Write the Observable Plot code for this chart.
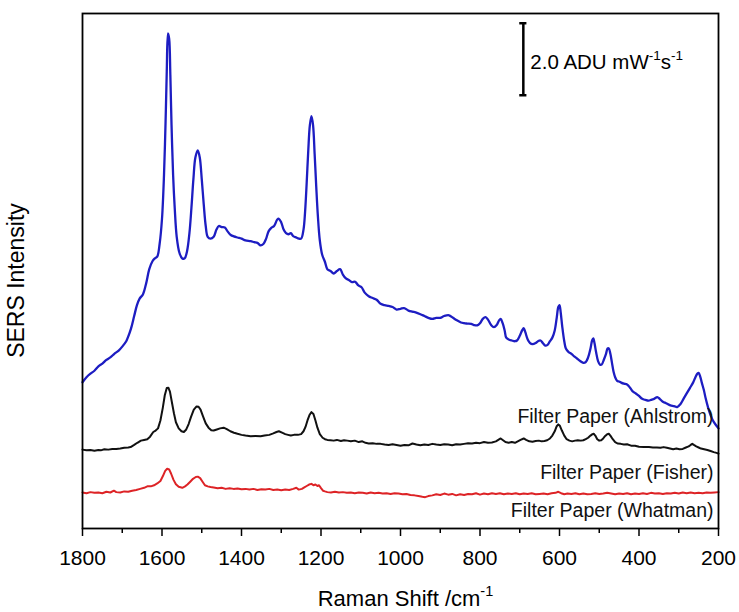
<!DOCTYPE html>
<html><head><meta charset="utf-8">
<script src="https://cdn.jsdelivr.net/npm/d3@7"></script>
<script src="https://cdn.jsdelivr.net/npm/@observablehq/plot@0.6"></script>
<style>body{margin:0;background:#fff;} svg{display:block}</style>
</head><body><div id="chart"></div>
<script>
// x-axis ticks (Raman shift, cm-1)
const xTicks = [1800, 1600, 1400, 1200, 1000, 800, 600, 400, 200];
const xMinorTicks = [1700, 1500, 1300, 1100, 900, 700, 500, 300];

// Upper (blue) spectrum, offset intensity in ADU mW-1 s-1
const blueX = [1800,1790,1780,1770,1760,1750,1740,1730,1720,1709,1700,1690,1686,1678,1670,1663,1656,1648,1640,1632,1624,1618,1612,1606,1600,1595,1591,1588,1585,1582,1579,1576,1572,1568,1563,1556,1549,1543,1537,1531,1526,1521,1516,1510,1505,1500,1495,1490,1485,1478,1470,1463,1457,1450,1442,1435,1427,1419,1410,1400,1390,1377,1368,1360,1352,1345,1338,1332,1325,1318,1310,1306,1300,1294,1288,1282,1276,1270,1262,1256,1250,1244,1240,1236,1232,1228,1224,1220,1216,1212,1208,1203,1197,1190,1184,1176,1168,1160,1152,1145,1138,1130,1122,1114,1106,1098,1090,1080,1070,1060,1050,1040,1030,1020,1010,1000,991,980,970,962,950,940,930,920,910,900,890,878,868,858,848,840,832,822,815,807,800,793,786,780,772,765,758,752,748,743,738,734,728,720,712,707,700,694,690,686,680,674,668,660,654,648,642,636,630,624,618,612,607,603,600,597,593,588,584,577,570,563,556,548,540,534,528,522,518,515,512,508,503,498,494,488,483,479,476,472,468,464,460,455,450,445,438,430,422,415,408,400,392,384,376,368,362,354,348,340,332,321,312,304,296,288,280,272,264,258,253,250,246,242,237,232,226,220,214,207,200];
const blueY = [4.06,4.2,4.3,4.38,4.5,4.58,4.68,4.75,4.85,4.94,5.05,5.2,5.3,5.55,5.9,6.2,6.39,6.5,6.8,7.2,7.42,7.5,7.55,7.9,8.6,9.8,11.3,12.7,13.75,13.6,12.6,11.2,9.8,8.9,8.1,7.65,7.5,7.5,7.7,8.2,8.9,9.7,10.3,10.5,10.3,9.7,9.0,8.4,8.1,8.05,8.1,8.3,8.4,8.37,8.36,8.25,8.15,8.11,8.08,8.05,8.0,7.98,7.95,7.93,7.86,7.9,8.05,8.25,8.35,8.4,8.58,8.6,8.5,8.3,8.2,8.17,8.2,8.12,8.08,8.05,8.05,8.3,8.8,9.6,10.5,11.2,11.45,11.2,10.4,9.5,8.7,8.0,7.6,7.4,7.2,7.15,7.08,7.15,7.2,7.05,6.95,6.9,6.84,6.85,6.75,6.7,6.55,6.45,6.4,6.35,6.24,6.2,6.18,6.15,6.08,6.1,6.12,6.05,6.02,6.0,5.95,5.9,5.85,5.82,5.85,5.85,5.9,5.92,5.85,5.78,5.72,5.7,5.69,5.68,5.65,5.64,5.7,5.82,5.87,5.8,5.65,5.59,5.65,5.78,5.82,5.7,5.5,5.3,5.25,5.22,5.2,5.22,5.35,5.5,5.56,5.45,5.25,5.15,5.12,5.15,5.2,5.22,5.15,5.08,5.1,5.2,5.3,5.5,5.85,6.15,6.2,6.0,5.6,5.2,5.0,4.9,4.85,4.78,4.72,4.65,4.6,4.62,4.75,5.0,5.22,5.28,5.15,4.9,4.65,4.55,4.55,4.7,4.85,5.0,5.0,4.85,4.6,4.35,4.2,4.1,4.08,4.05,4.02,4.0,3.9,3.8,3.75,3.68,3.6,3.57,3.55,3.58,3.6,3.65,3.6,3.52,3.48,3.42,3.4,3.37,3.45,3.6,3.75,3.9,4.05,4.2,4.3,4.32,4.22,4.05,3.85,3.6,3.35,3.15,3.0,2.88,2.78];

// Middle (black) spectrum
const blackX = [1800,1790,1780,1770,1760,1754,1745,1735,1725,1715,1705,1695,1685,1679,1670,1662,1653,1645,1637,1630,1622,1616,1610,1604,1598,1593,1588,1584,1580,1575,1570,1565,1558,1551,1545,1539,1533,1527,1520,1513,1508,1503,1497,1490,1483,1476,1470,1462,1454,1445,1437,1428,1419,1410,1400,1390,1377,1365,1352,1342,1330,1320,1312,1306,1298,1290,1283,1276,1268,1258,1250,1244,1239,1234,1229,1224,1219,1214,1209,1203,1196,1190,1184,1176,1168,1160,1150,1142,1134,1125,1115,1105,1096,1088,1080,1070,1060,1050,1040,1030,1020,1010,1000,990,980,970,960,950,940,930,920,910,900,890,880,870,860,850,840,830,820,810,800,790,780,770,760,754,748,742,736,728,720,712,705,698,690,684,676,668,660,652,645,638,631,624,618,612,607,603,599,594,588,582,575,568,561,554,546,540,534,528,522,517,514,510,505,500,495,490,485,480,476,472,466,460,454,446,438,430,420,410,400,388,375,365,355,346,338,330,322,314,306,298,290,282,275,270,266,262,256,250,244,236,228,220,212,205,200];
const blackY = [2.19,2.17,2.18,2.16,2.18,2.17,2.2,2.19,2.21,2.21,2.22,2.24,2.25,2.26,2.32,2.38,2.44,2.46,2.48,2.55,2.68,2.72,2.78,3.0,3.35,3.7,3.9,3.91,3.8,3.5,3.2,2.95,2.78,2.7,2.68,2.75,2.9,3.1,3.3,3.39,3.38,3.3,3.12,2.92,2.8,2.73,2.72,2.75,2.78,2.8,2.76,2.7,2.66,2.63,2.6,2.58,2.56,2.57,2.56,2.58,2.6,2.64,2.68,2.7,2.66,2.62,2.6,2.58,2.6,2.6,2.62,2.7,2.82,3.0,3.15,3.23,3.18,3.0,2.8,2.62,2.52,2.48,2.46,2.45,2.44,2.46,2.43,2.45,2.44,2.42,2.44,2.4,2.42,2.38,2.36,2.37,2.35,2.35,2.33,2.32,2.34,2.32,2.3,2.32,2.31,2.36,2.33,2.31,2.33,2.32,2.35,2.33,2.32,2.34,2.33,2.31,2.34,2.33,2.35,2.37,2.36,2.38,2.37,2.4,2.38,2.39,2.42,2.46,2.5,2.45,2.4,2.38,2.4,2.38,2.42,2.46,2.5,2.46,2.42,2.41,2.43,2.44,2.42,2.43,2.45,2.5,2.58,2.7,2.84,2.89,2.85,2.72,2.58,2.48,2.44,2.42,2.44,2.45,2.44,2.45,2.48,2.52,2.58,2.62,2.63,2.58,2.48,2.44,2.45,2.5,2.57,2.62,2.63,2.58,2.48,2.4,2.36,2.35,2.33,2.34,2.3,2.3,2.27,2.26,2.26,2.25,2.25,2.24,2.26,2.24,2.22,2.2,2.22,2.2,2.21,2.25,2.28,2.32,2.35,2.32,2.28,2.25,2.22,2.2,2.18,2.15,2.12,2.1,2.08];

// Lower (red) spectrum
const redX = [1800,1790,1780,1770,1760,1750,1740,1730,1721,1715,1705,1695,1685,1675,1665,1655,1645,1637,1628,1620,1612,1604,1598,1592,1587,1582,1577,1571,1565,1558,1549,1542,1536,1529,1522,1515,1510,1504,1498,1492,1485,1478,1470,1460,1450,1440,1430,1420,1410,1400,1390,1380,1370,1360,1350,1340,1330,1320,1310,1300,1290,1280,1270,1262,1256,1248,1242,1236,1230,1224,1219,1214,1209,1205,1200,1195,1190,1184,1175,1165,1155,1145,1135,1125,1115,1105,1095,1085,1075,1065,1055,1045,1035,1025,1015,1005,995,985,975,965,955,945,938,930,920,910,900,890,880,870,860,850,840,830,820,810,800,790,780,770,760,750,740,730,720,710,700,690,680,670,660,650,640,630,620,610,603,596,588,580,570,560,550,540,530,520,510,500,490,480,470,460,450,440,430,420,410,400,390,380,370,360,350,340,330,320,310,300,290,280,270,260,250,240,230,220,210,200];
const redY = [1.0,0.98,1.01,0.99,1.0,0.98,1.02,1.0,1.05,1.01,1.0,1.03,1.02,1.05,1.07,1.1,1.13,1.17,1.17,1.2,1.25,1.32,1.45,1.6,1.66,1.64,1.52,1.35,1.23,1.16,1.13,1.17,1.22,1.3,1.38,1.43,1.44,1.4,1.3,1.2,1.17,1.15,1.14,1.12,1.13,1.1,1.12,1.1,1.11,1.09,1.1,1.08,1.1,1.07,1.09,1.08,1.1,1.07,1.08,1.06,1.08,1.07,1.1,1.13,1.08,1.1,1.14,1.18,1.22,1.24,1.2,1.22,1.18,1.2,1.12,1.05,1.03,1.01,1.0,1.02,1.0,1.01,0.99,1.0,0.98,1.0,0.99,0.97,1.0,0.98,0.99,0.97,0.98,0.96,0.98,0.97,0.95,0.96,0.93,0.92,0.9,0.88,0.87,0.9,0.92,0.95,0.93,0.97,0.94,0.96,0.92,0.95,0.93,0.96,0.95,0.98,0.94,0.97,0.95,0.98,0.96,0.98,0.95,0.97,0.96,0.98,0.95,0.97,0.96,0.98,0.95,0.96,0.97,0.95,0.98,0.99,1.02,0.98,0.95,0.97,0.96,0.98,0.95,0.97,0.95,0.96,0.98,0.96,0.97,0.99,0.97,0.95,0.97,0.96,0.98,0.95,0.97,0.96,0.98,0.96,0.99,0.97,0.98,0.96,0.98,0.97,0.99,0.97,1.0,0.98,1.0,0.98,0.99,0.98,1.0,0.99,1.0,1.01];

// Series labels and their heights (same units)
const labelNames = ["Filter Paper (Ahlstrom)", "Filter Paper (Fisher)", "Filter Paper (Whatman)"];
const labelY = [3.09, 1.56, 0.5];

// Scale bar: 2.0 ADU mW-1 s-1
const scaleBarX = 691;
const scaleBarY0 = 12.03;
const scaleBarLength = 2.0;
const scaleBarText = "2.0 ADU mW-1s-1";

const xLabel = "Raman Shift /cm-1";
const yLabel = "SERS Intensity";

const font = "'Liberation Sans', Arial, sans-serif";

const chart = Plot.plot({
  width: 739,
  height: 612,
  marginLeft: 82,
  marginRight: 21,
  marginTop: 13,
  marginBottom: 84,
  style: {fontFamily: font, background: "#fff", color: "#000"},
  x: {domain: [1800, 200]},
  y: {domain: [0, 14.3], axis: null},
  marks: [
    Plot.axisX(xTicks, {tickSize: 8, tickPadding: 14, fontSize: 21, label: null, tickFormat: "d", strokeWidth: 1.5}),
    Plot.axisX(xMinorTicks, {tickSize: 5, label: null, tickFormat: () => "", strokeWidth: 1.5}),
    Plot.line(d3.zip(redX, redY), {stroke: "#dd2326", strokeWidth: 2}),
    Plot.line(d3.zip(blackX, blackY), {stroke: "#111", strokeWidth: 2}),
    Plot.line(d3.zip(blueX, blueY), {stroke: "#1d1dc2", strokeWidth: 2.3, curve: "catmull-rom"}),
    Plot.frame({stroke: "#000", strokeWidth: 1.8}),
    Plot.text(labelNames, {x: () => 200, y: (d, i) => labelY[i], text: d => d, textAnchor: "end", dx: -5, fontSize: 19.5, fill: "#111"}),
    Plot.ruleX([scaleBarX], {x: d => d, y1: scaleBarY0, y2: scaleBarY0 + scaleBarLength, stroke: "#000", strokeWidth: 2.5}),
    Plot.ruleY([scaleBarY0, scaleBarY0 + scaleBarLength], {y: d => d, x1: scaleBarX + 9, x2: scaleBarX - 9, stroke: "#000", strokeWidth: 2.5}),
    Plot.text([scaleBarText], {x: scaleBarX, y: scaleBarY0 + scaleBarLength / 2, text: d => d, textAnchor: "start", dx: 7, dy: 3, fontSize: 20.5, fill: "#000"}),
    Plot.text([xLabel], {frameAnchor: "bottom", text: d => d, lineAnchor: "middle", textAnchor: "middle", dy: 70, dx: 5, fontSize: 22, fill: "#000"}),
    Plot.text([yLabel], {frameAnchor: "left", text: d => d, rotate: -90, lineAnchor: "middle", textAnchor: "middle", dx: -66, dy: 9.5, fontSize: 23, fill: "#000"})
  ]
});

function superscript(svg, full, parts, fs) {
  const supFs = 0.66 * fs, shift = 0.42 * fs;
  d3.select(svg).selectAll("text").filter(function() { return this.textContent === full; }).each(function() {
    const t = d3.select(this);
    t.text(null);
    let raised = false;
    parts.forEach(([s, sup]) => {
      const sp = t.append("tspan").text(s);
      if (sup && !raised) { sp.attr("font-size", supFs).attr("dy", -shift); raised = true; }
      else if (!sup && raised) { sp.attr("dy", shift); raised = false; }
      else if (sup) sp.attr("font-size", supFs);
    });
  });
}
superscript(chart, xLabel, [["Raman Shift /cm", false], ["-1", true]], 22);
superscript(chart, scaleBarText, [["2.0 ADU mW", false], ["-1", true], ["s", false], ["-1", true]], 20.5);

document.getElementById("chart").appendChild(chart);
</script>
</body></html>
